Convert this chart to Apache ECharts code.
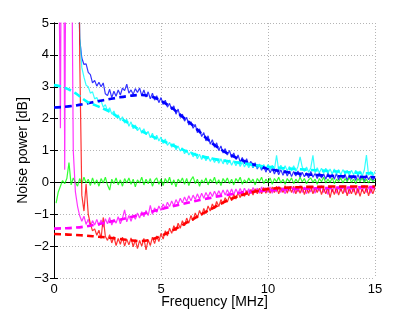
<!DOCTYPE html>
<html>
<head>
<meta charset="utf-8">
<script src="https://cdn.jsdelivr.net/npm/echarts@6/dist/echarts.min.js"></script>
<style>
html,body{margin:0;padding:0;background:#fff;}
#c{width:415px;height:312px;}
</style>
</head>
<body>
<div id="c"></div>
<script>
// Frequency sampling step (MHz) of the measured traces and of the fitted curves
const STEP = 0.1;
const FIT_STEP = 0.5;
const xTicks = [0, 5, 10, 15];
const yTicks = [-3, -2, -1, 0, 1, 2, 3, 4, 5];

// measured noise power traces [dB], one value per 0.1 MHz from 0 to 15 MHz
const blueMeas = [null,null,null,null,null,null,null,null,null,null,null,
9,4.5,3.9,3.7,3.72,3.45,3.38,3.12,3.2,
3.02,3.14,3.0,3.12,2.78,2.72,2.92,2.66,2.86,2.7,
2.9,2.74,2.96,2.88,3.08,2.8,2.9,2.76,2.94,2.82,
2.96,2.72,2.9,2.68,2.84,2.62,2.8,2.58,2.72,2.5,
2.66,2.44,2.58,2.36,2.48,2.28,2.4,2.14,2.3,2.04,
2.14,1.92,2.04,1.8,1.9,1.7,1.82,1.56,1.68,1.44,
1.56,1.3,1.46,1.2,1.34,1.1,1.24,1.0,1.14,0.92,
1.06,0.86,1.0,0.78,0.92,0.72,0.86,0.64,0.78,0.58,
0.74,0.54,0.66,0.46,0.62,0.42,0.56,0.38,0.52,0.32,
0.48,0.3,0.44,0.26,0.42,0.24,0.4,0.22,0.38,0.2,
0.36,0.18,0.34,0.2,0.36,0.16,0.32,0.18,0.3,0.14,
0.34,0.16,0.28,0.12,0.3,0.14,0.26,0.1,0.3,0.12,
0.26,0.1,0.28,0.08,0.24,0.12,0.26,0.06,0.24,0.1,
0.22,0.06,0.26,0.08,0.2,0.04,0.24,0.08,0.2,0.06,
0.18];

const cyanMeas = [null,null,null,null,null,null,null,null,null,null,null,
9,4.6,3.6,3.3,3.05,3.0,2.8,2.84,2.62,
2.66,2.5,2.56,2.36,2.44,2.24,2.34,2.14,2.24,2.04,
2.12,1.94,2.06,1.86,1.98,1.76,1.9,1.68,1.8,1.62,
1.72,1.54,1.68,1.5,1.6,1.4,1.54,1.34,1.48,1.3,
1.42,1.22,1.36,1.16,1.26,1.1,1.22,1.02,1.14,0.98,
1.08,0.9,1.02,0.86,0.96,0.8,0.92,0.74,0.88,0.72,
0.84,0.68,0.82,0.66,0.78,0.62,0.76,0.6,0.74,0.58,
0.72,0.56,0.7,0.54,0.68,0.52,0.66,0.5,0.64,0.48,
0.62,0.46,0.6,0.46,0.58,0.44,0.58,0.42,0.56,0.42,
0.56,0.4,0.54,0.4,0.85,0.38,0.54,0.38,0.52,0.36,
0.5,0.36,0.52,0.34,0.5,0.8,0.48,0.34,0.48,0.32,
0.46,0.85,0.3,0.46,0.3,0.44,0.28,0.44,0.28,0.42,
0.26,0.42,0.26,0.4,0.24,0.4,0.26,0.38,0.22,0.38,
0.24,0.38,0.22,0.36,0.2,0.38,0.86,0.22,0.36,0.2,
0.34];

const greenMeas = [null,
-0.65,-0.3,-0.12,0.06,-0.04,0.12,0.62,-0.08,0.14,
0.0,-0.12,0.12,-0.04,0.16,-0.02,0.1,-0.1,0.14,-0.06,
0.08,-0.12,0.12,-0.02,0.16,-0.08,-0.24,0.1,-0.04,0.14,
-0.08,0.08,-0.12,0.12,-0.02,0.14,-0.06,0.1,-0.14,0.08,
-0.02,0.16,-0.08,0.1,-0.04,0.12,-0.12,0.06,0.14,-0.06,
0.1,-0.1,0.12,-0.02,0.16,-0.08,0.08,-0.14,0.1,0.0,
0.14,-0.06,0.12,-0.1,0.08,0.18,-0.04,0.1,-0.12,0.08,
-0.02,0.14,-0.08,0.1,0.0,0.16,-0.06,0.08,-0.1,0.12,
0.0,0.14,-0.04,0.1,-0.08,0.12,0.02,0.16,-0.06,0.08,
-0.02,0.14,0.0,0.1,-0.08,0.12,0.02,0.16,-0.04,0.1,
0.0,0.14,-0.06,0.12,0.02,0.16,-0.02,0.1,-0.06,0.12,
0.02,0.14,-0.04,0.1,0.0,0.16,0.02,0.12,-0.04,0.08,
0.14,0.0,0.1,-0.06,0.12,0.02,0.16,-0.02,0.1,0.0,
0.14,-0.04,0.1,0.02,0.14,-0.02,0.12,0.02,0.16,0.0,
0.1,-0.04,0.12,0.02,0.14,0.0,0.1,-0.02,0.12,0.02,
0.08];

const magentaMeas = [
12,20,9,1.7,18,0.4,14,20,10,1.0,
-0.3,-0.75,-1.05,-1.22,-1.06,-1.32,-1.16,-1.38,-1.2,-1.34,
-1.16,-1.36,-1.18,-1.4,-1.14,-1.3,-1.1,-1.34,-1.16,-1.28,
-1.08,-1.3,-1.12,-0.86,-1.24,-1.04,-1.22,-1.02,-1.16,-0.96,
-1.12,-0.92,-1.08,-0.88,-1.04,-0.72,-1.0,-0.8,-0.94,-0.74,
-0.88,-0.68,-0.82,-0.62,-0.76,-0.58,-0.74,-0.54,-0.68,-0.5,
-0.64,-0.46,-0.6,-0.42,-0.58,-0.4,-0.54,-0.36,-0.52,-0.34,
-0.5,-0.32,-0.46,-0.3,-0.44,-0.28,-0.42,-0.26,-0.4,-0.24,
-0.4,-0.23,-0.37,-0.21,-0.39,-0.21,-0.35,-0.19,-0.34,-0.18,
-0.34,-0.2,-0.36,-0.16,-0.32,-0.18,-0.34,-0.14,-0.3,-0.16,
-0.32,-0.14,-0.34,-0.16,-0.3,-0.12,-0.32,-0.16,-0.36,-0.14,
-0.28,-0.12,-0.34,-0.16,-0.3,-0.1,-0.32,-0.14,-0.36,-0.16,
-0.3,-0.12,-0.34,-0.14,-0.28,-0.1,-0.32,-0.16,-0.38,-0.14,
-0.3,-0.12,-0.34,-0.16,-0.28,-0.1,-0.32,-0.14,-0.36,-0.16,
-0.3,-0.12,-0.34,-0.16,-0.28,-0.1,-0.32,-0.14,-0.34,-0.16,
-0.24];

const redMeas = [null,null,null,null,null,null,null,null,null,null,null,
20,4,-0.4,-0.9,-0.05,-1.0,-1.3,-1.52,-1.46,
-1.66,-1.5,-1.76,-1.1,-1.7,-1.82,-1.64,-1.9,-1.7,-1.98,
-1.76,-1.94,-1.72,-2.0,-1.78,-1.96,-1.74,-2.02,-1.8,-2.08,
-1.82,-2.0,-1.76,-2.12,-1.8,-1.98,-1.72,-1.92,-1.68,-1.86,
-1.6,-1.78,-1.52,-1.68,-1.44,-1.6,-1.36,-1.52,-1.28,-1.44,
-1.2,-1.36,-1.12,-1.28,-1.04,-1.2,-0.96,-1.12,-0.88,-1.04,
-0.82,-0.98,-0.74,-0.9,-0.68,-0.82,-0.6,-0.76,-0.54,-0.68,
-0.48,-0.62,-0.42,-0.58,-0.38,-0.52,-0.32,-0.48,-0.28,-0.44,
-0.26,-0.42,-0.22,-0.4,-0.2,-0.36,-0.18,-0.36,-0.16,-0.34,
-0.16,-0.34,-0.14,-0.32,-0.12,-0.36,-0.16,-0.32,-0.1,-0.34,
-0.14,-0.32,-0.12,-0.36,-0.16,-0.34,-0.14,-0.38,-0.18,-0.34,
-0.12,-0.36,-0.16,-0.32,-0.14,-0.38,-0.18,-0.36,-0.16,-0.48,
-0.2,-0.38,-0.16,-0.4,-0.18,-0.36,-0.14,-0.42,-0.2,-0.36,
-0.16,-0.4,-0.18,-0.44,-0.2,-0.36,-0.16,-0.42,-0.18,-0.36,
-0.16];

// fitted (model) curves [dB], one value per 0.5 MHz from 0 to 15 MHz
const blueFit = [2.35,2.37,2.41,2.47,2.54,2.6,2.66,2.71,2.74,2.7,2.56,2.34,2.06,1.78,1.46,1.17,0.95,0.78,0.64,0.52,0.43,0.36,0.31,0.27,0.24,0.22,0.2,0.19,0.18,0.17,0.16];
const cyanFit = [3.05,2.97,2.8,2.55,2.4,2.25,2.05,1.85,1.65,1.47,1.32,1.18,1.03,0.9,0.8,0.73,0.68,0.63,0.58,0.53,0.49,0.46,0.43,0.41,0.39,0.37,0.35,0.33,0.31,0.29,0.28];
const magentaFit = [-1.45,-1.44,-1.42,-1.38,-1.32,-1.25,-1.18,-1.1,-1.02,-0.93,-0.84,-0.76,-0.68,-0.6,-0.53,-0.46,-0.4,-0.35,-0.31,-0.28,-0.25,-0.23,-0.21,-0.2,-0.19,-0.18,-0.17,-0.16,-0.16,-0.15,-0.15];
const redFit = [-1.62,-1.63,-1.65,-1.67,-1.7,-1.73,-1.77,-1.81,-1.84,-1.8,-1.68,-1.52,-1.34,-1.15,-0.96,-0.78,-0.6,-0.46,-0.35,-0.27,-0.21,-0.18,-0.16,-0.15,-0.14,-0.14,-0.13,-0.13,-0.13,-0.13,-0.13];

function pairs(arr, step) {
  const out = [];
  arr.forEach((v, i) => { if (v !== null) out.push([+(i * step).toFixed(2), v]); });
  return out;
}
function meas(arr, color) {
  return { type: 'line', data: pairs(arr, STEP), showSymbol: false, symbol: 'none',
    lineStyle: { color: color, width: 1.2, opacity: 0.8 }, clip: true, silent: true, z: 2 };
}
function fit(arr, color) {
  return { type: 'line', data: pairs(arr, FIT_STEP), showSymbol: false, symbol: 'none', smooth: 0.4,
    lineStyle: { color: color, width: 2.6, type: [7, 4] }, clip: true, silent: true, z: 3 };
}

const FONT = 'Liberation Sans, Arial, Helvetica, sans-serif';
const chart = echarts.init(document.getElementById('c'), null, { renderer: 'canvas' });
const axisLineStyle = { show: true, lineStyle: { color: '#000', width: 1 } };
chart.setOption({
  animation: false,
  backgroundColor: '#fff',
  grid: { left: 54, right: 40, top: 23, bottom: 34, containLabel: false, outerBoundsMode: 'none' },
  xAxis: [{
    type: 'value', min: xTicks[0], max: xTicks[xTicks.length - 1], interval: 5,
    position: 'bottom',
    name: 'Frequency [MHz]', nameLocation: 'middle', nameGap: 17, nameMoveOverlap: false,
    nameTextStyle: { fontFamily: FONT, fontSize: 14, color: '#000' },
    axisLine: axisLineStyle,
    axisTick: { show: true, inside: true, length: 4, lineStyle: { color: '#000' } },
    axisLabel: { fontFamily: FONT, fontSize: 13, color: '#000', margin: 5 },
    splitLine: { show: true, lineStyle: { color: '#b4b4b4', type: [1, 2], width: 1 } }
  }, {
    type: 'value', min: xTicks[0], max: xTicks[xTicks.length - 1], interval: 5,
    position: 'top',
    axisLine: axisLineStyle,
    axisTick: { show: true, inside: true, length: 4, lineStyle: { color: '#000' } },
    axisLabel: { show: false }, splitLine: { show: false }
  }],
  yAxis: [{
    type: 'value', min: yTicks[0], max: yTicks[yTicks.length - 1], interval: 1,
    position: 'left',
    name: 'Noise power [dB]', nameLocation: 'middle', nameGap: 24, nameMoveOverlap: false,
    nameTextStyle: { fontFamily: FONT, fontSize: 14, color: '#000' },
    axisLine: axisLineStyle,
    axisTick: { show: true, inside: true, length: 4, lineStyle: { color: '#000' } },
    axisLabel: { fontFamily: FONT, fontSize: 13, color: '#000', margin: 5,
      formatter: v => (v < 0 ? '\u2212' + Math.abs(v) : String(v)) },
    splitLine: { show: true, lineStyle: { color: '#b4b4b4', type: [1, 2], width: 1 } }
  }, {
    type: 'value', min: yTicks[0], max: yTicks[yTicks.length - 1], interval: 1,
    position: 'right',
    axisLine: axisLineStyle,
    axisTick: { show: true, inside: true, length: 4, lineStyle: { color: '#000' } },
    axisLabel: { show: false }, splitLine: { show: false }
  }],
  series: [
    meas(blueMeas, '#0000ff'),
    meas(cyanMeas, '#00ffff'),
    meas(greenMeas, '#00ff00'),
    meas(magentaMeas, '#ff00ff'),
    meas(redMeas, '#ff0000'),
    fit(blueFit, '#0000ff'),
    fit(cyanFit, '#00ffff'),
    fit(magentaFit, '#ff00ff'),
    fit(redFit, '#ff0000')
  ]
});
</script>
</body>
</html>
